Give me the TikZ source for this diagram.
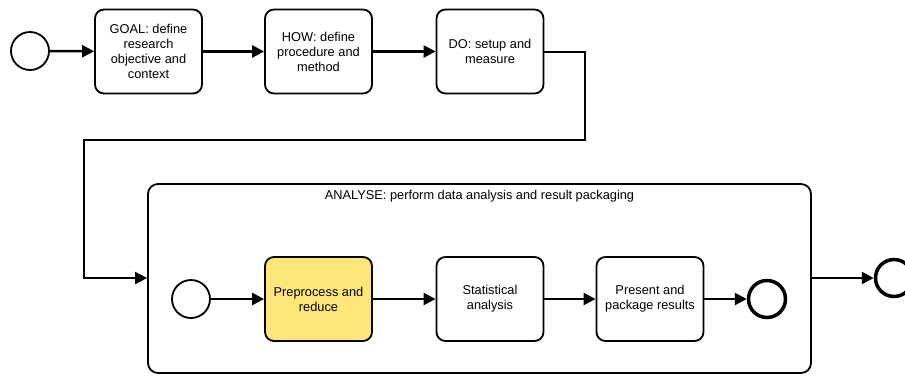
\documentclass[tikz,border=0pt]{standalone}
\usepackage{fontspec}
\setmainfont{Liberation Sans}
\usetikzlibrary{arrows.meta,positioning}
\definecolor{taskyellow}{RGB}{255,230,120}

\begin{document}
\begin{tikzpicture}[x=1pt,y=-1pt,
    task/.style={draw, line width=1.8pt, rounded corners=9pt, minimum width=107pt,
        minimum height=84pt, align=center,
        font=\fontsize{12.8}{15}\selectfont},
    startev/.style={draw, circle, line width=1.8pt, minimum size=38pt, inner sep=0pt},
    endev/.style={draw, circle, line width=3.5pt, minimum size=37pt, inner sep=0pt},
    flow/.style={line width=2.5pt, -{Triangle[length=12pt,width=12pt]}}]
    \useasboundingbox (0,0) rectangle (905,376);

    % Top row
    \node[startev] (start) at (30,51) {};
    \node[task] (goal) at (148.5,51.5) {GOAL: define\\research\\objective and\\context};
    \node[task] (how) at (318.5,51.5) {HOW: define\\procedure and\\method};
    \node[task] (do) at (490,51.5) {DO: setup and\\measure};

    % Sub-process box
    \node[draw, line width=1.8pt, rounded corners=10pt, minimum width=663pt,
        minimum height=189pt] (analyse) at (479.5,278.5) {};
    \node[below=4pt of analyse.north, font=\fontsize{12.8}{15}\selectfont] (analyselabel)
        {ANALYSE: perform data analysis and result packaging};

    % Inner row
    \node[startev] (substart) at (191,299) {};
    \node[task, fill=taskyellow] (prep) at (318.5,299) {Preprocess and\\reduce};
    \node[task] (stat) at (490,299) {Statistical\\analysis};
    \node[task] (pres) at (650,299) {Present and\\package results};
    \node[endev] (subend) at (767,299) {};

    % End event
    \node[endev] (finish) at (894,278) {};

    % Bends of the long connector
    \coordinate (bendA) at (585,140);
    \coordinate (bendB) at (84,278);

    % Draw the flows
    \draw[flow] (start) -- (goal);
    \draw[flow] (goal) -- (how);
    \draw[flow] (how) -- (do);
    \draw[flow, line width=2pt] (do.east) -| (bendA) -| (bendB) -- (bendB -| analyse.west);
    \draw[flow] (substart) -- (prep);
    \draw[flow] (prep) -- (stat);
    \draw[flow] (stat) -- (pres);
    \draw[flow] (pres) -- (subend);
    \draw[flow] (finish.west -| analyse.east) -- (finish);
\end{tikzpicture}
\end{document}
